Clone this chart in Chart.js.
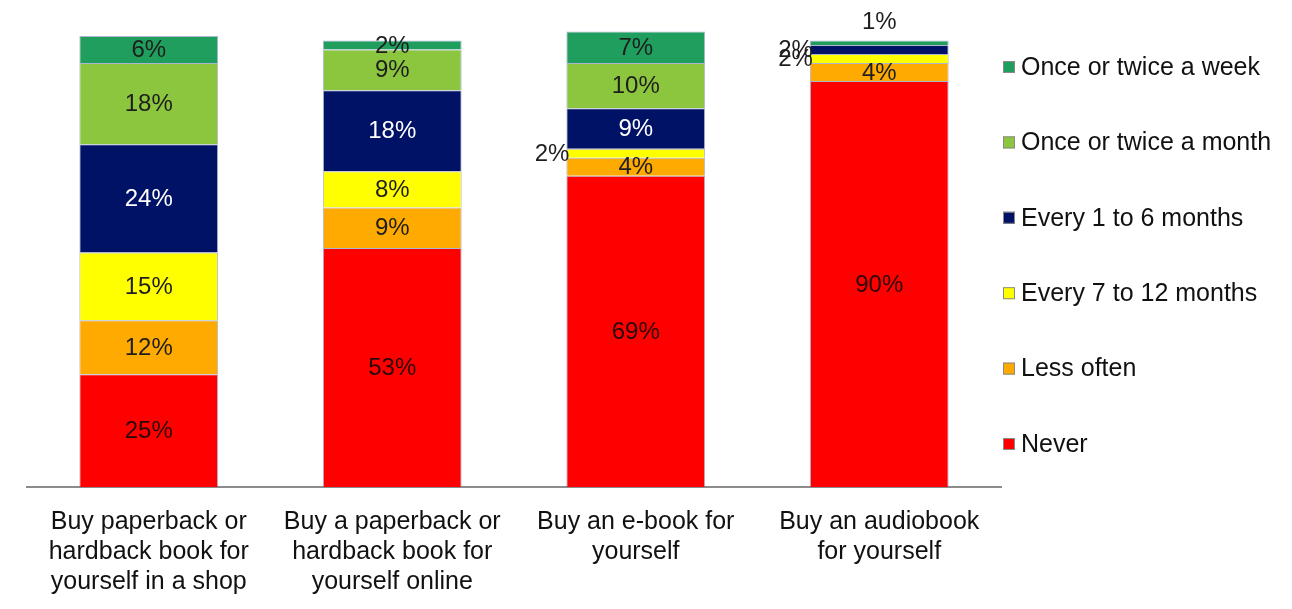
<!DOCTYPE html>
<html>
<head>
<meta charset="utf-8">
<script src="https://cdn.jsdelivr.net/npm/chart.js@4.4.0/dist/chart.umd.min.js"></script>
<style>
    html, body { margin: 0; padding: 0; background: #fff; }
    #wrap { width: 1292px; height: 609px; }
</style>
</head>
<body>
<div id="wrap"><canvas id="barChart"></canvas></div>
<script>
const categories = [
    ['Buy paperback or', 'hardback book for', 'yourself in a shop'],
    ['Buy a paperback or', 'hardback book for', 'yourself online'],
    ['Buy an e-book for', 'yourself'],
    ['Buy an audiobook', 'for yourself']
];

// stacked from the bottom up
const never = [25, 53, 69, 90];
const lessOften = [12, 9, 4, 4];
const every7to12 = [15, 8, 2, 2];
const every1to6 = [24, 18, 9, 2];
const monthly = [18, 9, 10, 0];
const weekly = [6, 2, 7, 1];

const seriesNames = ['Never', 'Less often', 'Every 7 to 12 months', 'Every 1 to 6 months', 'Once or twice a month', 'Once or twice a week'];
const seriesColors = ['#ff0000', '#ffaa00', '#ffff00', '#001266', '#8cc63f', '#1f9e5e'];
const labelColors = ['#2a0808', '#1e1e1e', '#1e1e1e', '#ffffff', '#1e1e1e', '#1e1e1e'];

const FONT = '"Liberation Sans", Arial, sans-serif';

// percent labels on the bar segments
const barLabels = {
    id: 'barLabels',
    afterDatasetsDraw(chart) {
        const ctx = chart.ctx;
        const last = chart.data.datasets.length - 1;
        ctx.save();
        ctx.font = '24px ' + FONT;
        ctx.textBaseline = 'middle';
        chart.data.datasets.forEach((ds, di) => {
            chart.getDatasetMeta(di).data.forEach((bar, i) => {
                const v = ds.data[i];
                if (!v) return;
                const text = v + '%';
                const mid = (bar.y + bar.base) / 2;
                const left = bar.x - bar.width / 2;
                if (di === last && v < 2) {
                    // tiny top slice: label goes above the bar
                    ctx.fillStyle = '#1e1e1e';
                    ctx.textAlign = 'center';
                    ctx.fillText(text, bar.x, bar.y - 18);
                } else if (di !== last && v <= 2) {
                    // thin slice: label sits on the left edge
                    ctx.fillStyle = '#1e1e1e';
                    ctx.textAlign = 'right';
                    ctx.fillText(text, left + 3, mid + 1);
                } else {
                    ctx.fillStyle = ds.labelColor;
                    ctx.textAlign = 'center';
                    ctx.fillText(text, bar.x, mid + 1);
                }
            });
        });
        ctx.restore();
    }
};

// legend on the right, top series first
const sideLegend = {
    id: 'sideLegend',
    afterDraw(chart) {
        const ctx = chart.ctx;
        const ds = chart.data.datasets;
        const x = chart.chartArea.right + 2;
        ctx.save();
        ctx.font = '25px ' + FONT;
        ctx.textBaseline = 'middle';
        ctx.textAlign = 'left';
        for (let k = 0; k < ds.length; k++) {
            const d = ds[ds.length - 1 - k];
            const y = 67 + k * 75.4;
            ctx.fillStyle = d.backgroundColor;
            ctx.fillRect(x, y - 6, 12, 12);
            ctx.strokeStyle = '#8a8a8a';
            ctx.lineWidth = 1;
            ctx.strokeRect(x + 0.5, y - 5.5, 11, 11);
            ctx.fillStyle = '#111';
            ctx.fillText(d.label, x + 18, y + 1);
        }
        ctx.restore();
    }
};

const seriesData = [never, lessOften, every7to12, every1to6, monthly, weekly];

const ctx = document.getElementById('barChart').getContext('2d');
const myChart = new Chart(ctx, {
    type: 'bar',
    data: {
        labels: categories,
        datasets: seriesData.map((data, i) => ({
            label: seriesNames[i],
            data: data,
            backgroundColor: seriesColors[i],
            labelColor: labelColors[i],
            borderColor: 'rgba(70,90,150,0.45)',
            borderWidth: 1,
            barPercentage: 0.57,
            categoryPercentage: 1
        }))
    },
    options: {
        responsive: true,
        maintainAspectRatio: false,
        animation: false,
        layout: {
            padding: { left: 27, right: 291, top: 27, bottom: 0 }
        },
        plugins: {
            legend: { display: false },
            tooltip: { enabled: false }
        },
        scales: {
            x: {
                stacked: true,
                grid: { display: false },
                border: { display: true, color: '#8c8c8c', width: 2 },
                ticks: {
                    color: '#111',
                    padding: 12,
                    maxRotation: 0,
                    autoSkip: false,
                    font: { family: FONT, size: 25, lineHeight: 1.2 }
                }
            },
            y: {
                stacked: true,
                display: false,
                min: 0,
                max: 102
            }
        }
    },
    plugins: [barLabels, sideLegend]
});
</script>
</body>
</html>
